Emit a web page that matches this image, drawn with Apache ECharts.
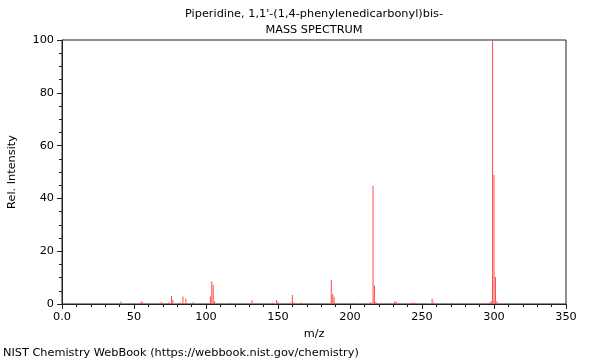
<!DOCTYPE html>
<html>
<head>
<meta charset="utf-8">
<script src="https://cdn.jsdelivr.net/npm/echarts@6/dist/echarts.min.js"></script>
<style>html,body{margin:0;padding:0;background:#fff}#c{width:600px;height:360px}</style>
</head>
<body>
<div id="c"></div>
<script>
var titleLine1 = "Piperidine, 1,1'-(1,4-phenylenedicarbonyl)bis-";
var titleLine2 = "MASS SPECTRUM";
var xAxisName = "m/z";
var yAxisName = "Rel. Intensity";
var footer = "NIST Chemistry WebBook (https://webbook.nist.gov/chemistry)";

var mz = [41, 55, 56, 69, 74, 76, 77, 82, 84, 86, 91, 103, 104, 105, 106, 117, 132, 146, 149, 150, 159, 160, 161, 166, 187, 188, 189, 203, 214, 216, 217, 218, 231, 232, 243, 244, 245, 257, 258, 271, 297, 298, 299, 300, 301, 302];
var intensity = [0.9, 0.9, 0.7, 0.8, 0.6, 3.0, 1.6, 0.6, 2.8, 2.0, 0.7, 2.9, 8.6, 7.3, 1.0, 0.5, 1.4, 0.5, 1.5, 0.8, 0.6, 3.4, 0.7, 0.6, 9.0, 3.8, 2.7, 0.5, 0.7, 44.7, 7.0, 0.8, 0.9, 0.9, 0.5, 0.5, 0.5, 2.0, 0.6, 0.5, 0.5, 1.1, 100, 48.9, 10.2, 1.0];

var data = mz.map(function (m, i) { return [m, intensity[i]]; });
var font = 'DejaVu Sans';
var fs = 11.3;
var chart = echarts.init(document.getElementById('c'));
chart.setOption({
  animation: false,
  textStyle: { fontFamily: font },
  grid: { left: 62, right: 34, top: 40, bottom: 56, show: true, borderColor: '#222', borderWidth: 1, containLabel: false, outerBoundsMode: 'none' },
  graphic: [
    { type: 'text', x: 314, y: 9, style: { text: titleLine1, font: fs + 'px "DejaVu Sans"', fill: '#000', textAlign: 'center' } },
    { type: 'text', x: 314, y: 25, style: { text: titleLine2, font: fs + 'px "DejaVu Sans"', fill: '#000', textAlign: 'center' } },
    { type: 'text', x: 3, y: 348, style: { text: footer, font: fs + 'px "DejaVu Sans"', fill: '#000' } }
  ],
  xAxis: {
    type: 'value', min: 0, max: 350, interval: 50,
    name: xAxisName, nameLocation: 'middle', nameGap: 25,
    nameTextStyle: { fontFamily: font, fontSize: fs, color: '#000' },
    axisLine: { show: true, lineStyle: { color: '#222' } },
    axisTick: { show: true, length: 5, lineStyle: { color: '#222' } },
    minorTick: { show: true, splitNumber: 5, length: 3, lineStyle: { color: '#222' } },
    splitLine: { show: false },
    axisLabel: { fontFamily: font, fontSize: fs, color: '#000', margin: 8,
      formatter: function (v) { return v === 0 ? '0.0' : String(v); } }
  },
  yAxis: {
    type: 'value', min: 0, max: 100, interval: 20,
    name: yAxisName, nameLocation: 'middle', nameGap: 44,
    nameTextStyle: { fontFamily: font, fontSize: fs, color: '#000' },
    axisLine: { show: true, lineStyle: { color: '#222' } },
    axisTick: { show: true, length: 5, lineStyle: { color: '#222' } },
    minorTick: { show: true, splitNumber: 4, length: 3, lineStyle: { color: '#222' } },
    splitLine: { show: false },
    axisLabel: { fontFamily: font, fontSize: fs, color: '#000', margin: 8 }
  },
  series: [{
    type: 'bar', data: data, barWidth: 1, barGap: '-100%',
    itemStyle: { color: '#ff4a4a' }
  }]
});
</script>
</body>
</html>
